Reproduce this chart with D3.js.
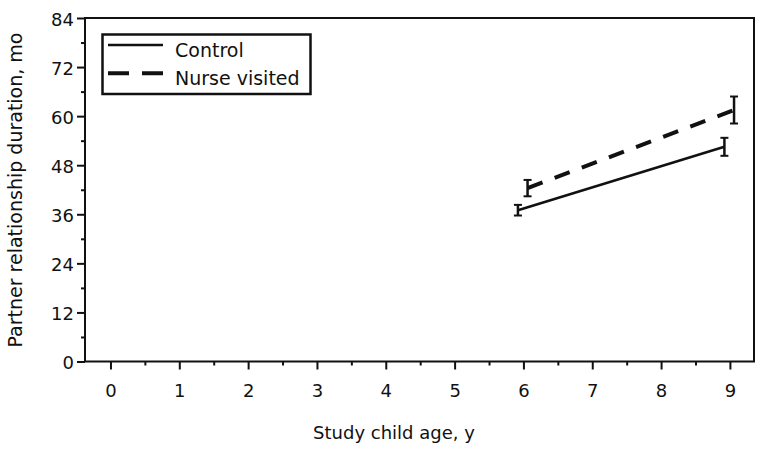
<!DOCTYPE html>
<html>
<head>
<meta charset="utf-8">
<script src="https://cdn.jsdelivr.net/npm/d3@7"></script>
<style>
  body { margin: 0; background: #fff; }
  text { font-family: "DejaVu Sans", "Liberation Sans", Arial, sans-serif; fill: #111; }
</style>
</head>
<body>
<div id="chart"></div>
<script>
// data
var groups = ["Control", "Nurse visited"];
var ages = [6, 9];
// small horizontal offset so the bars don't overlap
var xOffset = [-0.08, 0.06];
var controlMean = [37, 52.5];
var controlErr = [1.3, 2.2];
var nurseMean = [42.4, 61.5];
var nurseErr = [2.0, 3.3];
var xTicks = [0, 1, 2, 3, 4, 5, 6, 7, 8, 9];
var yTicks = [0, 12, 24, 36, 48, 60, 72, 84];

var W = 762, H = 452;
var margin = {top: 18, right: 8, bottom: 90, left: 85};

var svg = d3.select("#chart").append("svg")
  .attr("width", W)
  .attr("height", H);

var x = d3.scaleLinear().domain([-0.37, 9.35]).range([margin.left, W - margin.right]);
var y = d3.scaleLinear().domain([0, 84]).range([361.5, margin.top]);

// frame
svg.append("rect")
  .attr("x", x(-0.37)).attr("y", y(84))
  .attr("width", x(9.35) - x(-0.37))
  .attr("height", y(0) - y(84))
  .attr("fill", "none").attr("stroke", "#111").attr("stroke-width", 2);

// y axis, major + minor ticks
var yAxis = svg.append("g")
  .attr("transform", "translate(" + x(-0.37) + ",0)")
  .call(d3.axisLeft(y).tickValues(yTicks).tickSize(8).tickPadding(3));
yAxis.selectAll("text").attr("dy", "0.4em");
svg.append("g")
  .attr("transform", "translate(" + x(-0.37) + ",0)")
  .call(d3.axisLeft(y).tickValues(d3.range(6, 84, 12)).tickSize(4).tickFormat(""));

// x axis
var xAxis = svg.append("g")
  .attr("transform", "translate(0," + y(0) + ")")
  .call(d3.axisBottom(x).tickValues(xTicks).tickSize(8).tickPadding(15));
svg.append("g")
  .attr("transform", "translate(0," + y(0) + ")")
  .call(d3.axisBottom(x).tickValues(d3.range(0.5, 9.5, 1)).tickSize(4).tickFormat(""));

svg.selectAll(".domain").remove();
svg.selectAll(".tick line").attr("stroke", "#111").attr("stroke-width", 2);
svg.selectAll(".tick text").style("font-size", "18px").attr("fill", "#111");

// axis titles
svg.append("text")
  .attr("x", 394).attr("y", 439)
  .attr("text-anchor", "middle")
  .style("font-size", "18px")
  .text("Study child age, y");

svg.append("text")
  .attr("transform", "translate(22,190) rotate(-90)")
  .attr("text-anchor", "middle")
  .style("font-size", "19px")
  .text("Partner relationship duration, mo");

// series
var series = [
  {name: groups[0], mean: controlMean, err: controlErr, off: xOffset[0], dash: null, w: 2.5},
  {name: groups[1], mean: nurseMean, err: nurseErr, off: xOffset[1], dash: "16,13", w: 4}
];

var line = d3.line()
  .x(function(d) { return x(d.age); })
  .y(function(d) { return y(d.mean); });

series.forEach(function(s) {
  var pts = ages.map(function(a, i) {
    return {age: a + s.off, mean: s.mean[i], err: s.err[i]};
  });

  svg.append("path")
    .datum(pts)
    .attr("d", line)
    .attr("fill", "none")
    .attr("stroke", "#111")
    .attr("stroke-width", s.w)
    .attr("stroke-dasharray", s.dash);

  var eb = svg.append("g").selectAll("g").data(pts).enter().append("g");
  eb.append("line")
    .attr("x1", function(d) { return x(d.age); })
    .attr("x2", function(d) { return x(d.age); })
    .attr("y1", function(d) { return y(d.mean - d.err); })
    .attr("y2", function(d) { return y(d.mean + d.err); })
    .attr("stroke", "#111").attr("stroke-width", 2.5);
  [-1, 1].forEach(function(sgn) {
    eb.append("line")
      .attr("x1", function(d) { return x(d.age) - 4; })
      .attr("x2", function(d) { return x(d.age) + 4; })
      .attr("y1", function(d) { return y(d.mean + sgn * d.err); })
      .attr("y2", function(d) { return y(d.mean + sgn * d.err); })
      .attr("stroke", "#111").attr("stroke-width", 2);
  });
});

// legend
var lg = svg.append("g");
lg.append("rect")
  .attr("x", 102.5).attr("y", 34.5)
  .attr("width", 208).attr("height", 59.5)
  .attr("fill", "#fff").attr("stroke", "#111").attr("stroke-width", 2.5);

lg.selectAll(".item").data(series).enter().append("g")
  .each(function(s, i) {
    var g = d3.select(this);
    var yy = 45 + i * 28.3;
    g.append("line")
      .attr("x1", 108).attr("x2", 163)
      .attr("y1", yy).attr("y2", yy)
      .attr("stroke", "#111")
      .attr("stroke-width", s.w)
      .attr("stroke-dasharray", s.dash ? "21,13" : null);
    g.append("text")
      .attr("x", 175).attr("y", yy + 12)
      .style("font-size", "19px")
      .text(s.name);
  });
</script>
</body>
</html>
